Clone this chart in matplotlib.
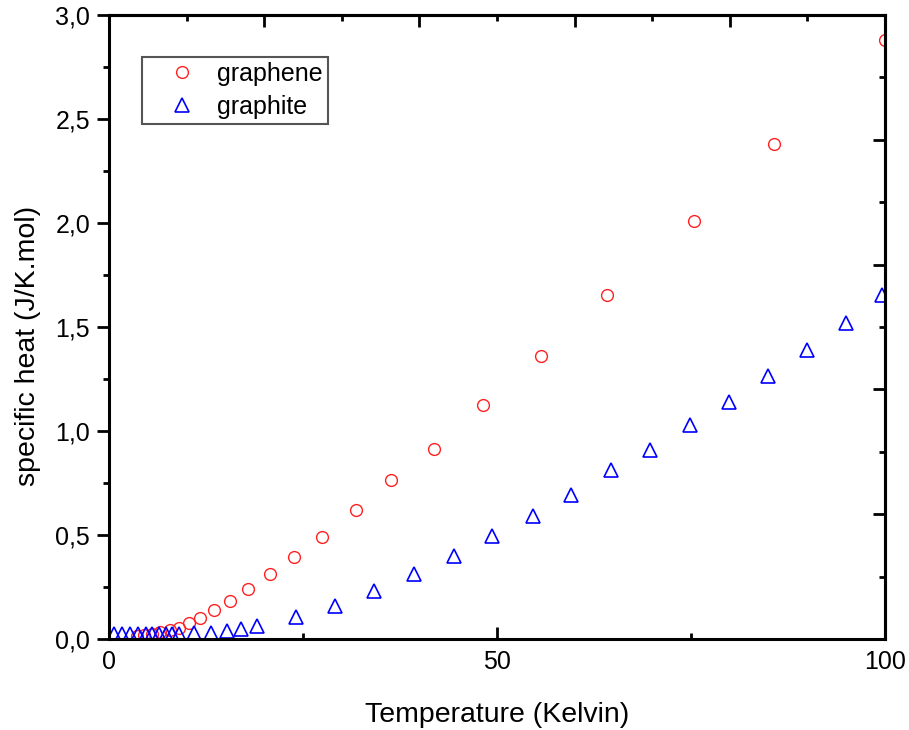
import matplotlib.pyplot as plt
from matplotlib.ticker import MultipleLocator, FuncFormatter

# Data
graphene_T = [100, 85.7, 75.4, 64.2, 55.7, 48.2, 41.9, 36.3, 31.8, 27.4, 23.8,
              20.7, 17.9, 15.6, 13.5, 11.7, 10.3, 9.0, 7.8, 6.6, 5.5, 4.5, 3.6]
graphene_C = [2.88, 2.38, 2.01, 1.654, 1.36, 1.125, 0.913, 0.764, 0.62, 0.49, 0.394,
              0.3125, 0.24, 0.183, 0.139, 0.102, 0.075, 0.054, 0.043, 0.032, 0.024, 0.019, 0.014]

graphite_T = [99.6, 95.0, 90.0, 84.9, 79.9, 74.9, 69.7, 64.7, 59.5, 54.6, 49.4,
              44.5, 39.3, 34.1, 29.1, 24.1, 19.1, 17.0, 15.2, 13.1, 11.0, 9.0,
              8.1, 7.3, 6.4, 5.5, 4.8, 3.8, 2.7, 1.7, 0.7]
graphite_C = [1.654, 1.52, 1.39, 1.265, 1.14, 1.03, 0.91, 0.81, 0.69, 0.59, 0.495,
              0.40, 0.31, 0.23, 0.16, 0.106, 0.062, 0.05, 0.04, 0.03, 0.027, 0.026,
              0.026, 0.026, 0.026, 0.026, 0.026, 0.026, 0.026, 0.026, 0.026]

x_major = [0, 50, 100]
y_max = 3.0


def comma(v, pos):
    return f"{v:.1f}".replace(".", ",")


def main():
    plt.rcParams["font.family"] = ["Liberation Sans", "DejaVu Sans"]

    fig = plt.figure(figsize=(9.09, 7.30), dpi=100)
    ax = fig.add_axes([0.1199, 0.1247, 0.8537, 0.8548])

    ax.plot(graphene_T, graphene_C, linestyle="none", marker="o", markersize=8.5,
            markerfacecolor="none", markeredgecolor="#ff2020", markeredgewidth=1.0,
            label="graphene")
    ax.plot(graphite_T, graphite_C, linestyle="none", marker="^", markersize=10,
            markerfacecolor="none", markeredgecolor="#0000ff", markeredgewidth=1.2,
            label="graphite")

    ax.set_xlim(0, 100)
    ax.set_ylim(0, y_max)
    ax.set_xticks(x_major)
    ax.xaxis.set_minor_locator(MultipleLocator(25))
    ax.yaxis.set_major_locator(MultipleLocator(0.5))
    ax.yaxis.set_minor_locator(MultipleLocator(0.25))
    ax.yaxis.set_major_formatter(FuncFormatter(comma))

    for s in ax.spines.values():
        s.set_linewidth(2.2)

    ax.tick_params(axis="x", which="major", direction="in", length=8.5, width=2,
                   labelsize=18, pad=8)
    ax.tick_params(axis="x", which="minor", direction="in", length=4.5, width=2)
    ax.tick_params(axis="y", which="major", direction="out", length=8.5, width=2,
                   labelsize=18, pad=5)
    ax.tick_params(axis="y", which="minor", direction="out", length=4.5, width=2)

    # top and right axes carry their own tick spacing, no labels
    top = ax.secondary_xaxis("top")
    top.xaxis.set_major_locator(MultipleLocator(20))
    top.xaxis.set_minor_locator(MultipleLocator(10))
    top.tick_params(which="major", direction="in", length=8.5, width=2, labeltop=False)
    top.tick_params(which="minor", direction="in", length=4.5, width=2)

    right = ax.secondary_yaxis("right", functions=(lambda y: y * 5 / 3, lambda y: y * 3 / 5))
    right.yaxis.set_major_locator(MultipleLocator(1))
    right.yaxis.set_minor_locator(MultipleLocator(0.5))
    right.tick_params(which="major", direction="in", length=8.5, width=2, labelright=False)
    right.tick_params(which="minor", direction="in", length=4.5, width=2)
    for sec in (top, right):
        for s in sec.spines.values():
            s.set_linewidth(2.2)

    ax.set_xlabel("Temperature (Kelvin)", fontsize=20.5, labelpad=20)
    ax.set_ylabel("specific heat (J/K.mol)", fontsize=20.5)
    ax.yaxis.set_label_coords(-0.088, 0.47)

    leg = ax.legend(loc="upper left", bbox_to_anchor=(0.0425, 0.933), borderaxespad=0,
                    fontsize=18, fancybox=False, framealpha=1, edgecolor="#555555",
                    handlelength=2.8, handletextpad=0.0, borderpad=0.2,
                    labelspacing=0.35)
    leg.get_frame().set_linewidth(1.5)

    plt.savefig("out.png", dpi=100)


if __name__ == "__main__":
    main()
